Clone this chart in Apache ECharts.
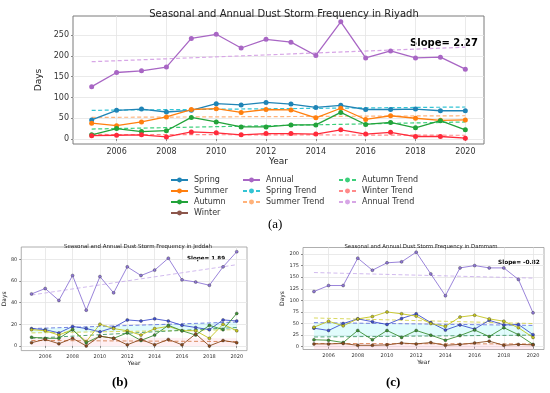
<!DOCTYPE html>
<html><head><meta charset="utf-8">
<script src="https://cdn.jsdelivr.net/npm/echarts@6/dist/echarts.min.js"></script>
<style>html,body{margin:0;padding:0;background:#fff}#c{width:550px;height:393px}</style>
</head><body><div id="c"></div>
<script>
const years = [2005,2006,2007,2008,2009,2010,2011,2012,2013,2014,2015,2016,2017,2018,2019,2020];
const trendYears = [2005, 2020];

// Riyadh
const riySpring = [46,69,72,65,69,85,82,88,84,76,81,71,71,72,68,68];
const riySummer = [38,32,41,53,71,73,64,71,70,51,74,47,56,50,45,46];
const riyAutumn = [10,25,18,20,52,41,29,29,34,34,64,35,40,27,44,22];
const riyWinter = [8,9,10,5,17,15,10,13,13,12,22,12,16,6,6,2];
const riyAnnual = [126,160,164,173,242,252,219,240,233,201,282,195,212,195,197,168];
const riyTrendSpring = [69,77];
const riyTrendSummer = [52,56];
const riyTrendAutumn = [24,41];
const riyTrendWinter = [11,9];
const riyTrendAnnual = [186,221];

// Jeddah
const jedSpring = [16,15,12,18,16,13,17,24,23,25,23,19,17,15,24,23];
const jedSummer = [15,14,10,15,4,20,16,14,10,16,18,14,14,7,20,14];
const jedAutumn = [8,7,7,15,3,9,7,12,5,10,19,14,10,19,15,30];
const jedWinter = [3,6,2,7,0,9,7,1,6,1,6,1,11,0,5,3];
const jedAnnual = [48,53,42,65,33,64,49,73,65,70,81,61,59,56,73,87];
const jedTrendSpring = [16,22];
const jedTrendSummer = [12,15];
const jedTrendAutumn = [7,17];
const jedTrendWinter = [5,4];
const jedTrendAnnual = [47,75];

// Dammam
const damSpring = [40,35,50,60,54,48,61,71,52,36,47,38,57,47,48,26];
const damSummer = [42,55,45,60,65,75,71,66,50,44,64,68,60,55,41,20];
const damAutumn = [15,14,9,35,15,35,20,35,25,14,24,36,22,41,26,5];
const damWinter = [6,6,7,3,3,4,8,6,9,3,5,8,12,3,5,4];
const damAnnual = [119,132,132,191,165,181,183,204,157,110,170,175,170,170,145,73];
const damTrendSpring = [52,46];
const damTrendSummer = [62,50];
const damTrendAutumn = [21,25];
const damTrendWinter = [7,6];
const damTrendAnnual = [160,148];

const xTicks = [2006,2008,2010,2012,2014,2016,2018,2020];
const riyTicks = [0,50,100,150,200,250];
const jedTicks = [0,20,40,60,80];
const damTicks = [0,25,50,75,100,125,150,175,200];

const FONT = 'DejaVu Sans';
const pts = (arr) => years.map((y,i)=>[y, arr[i]]);
const tpts = (arr) => trendYears.map((y,i)=>[y, arr[i]]);

function lineS(name, data, color, g, size, width) {
  return {type:'line', name, data:pts(data), xAxisIndex:g, yAxisIndex:g,
    symbol:'circle', symbolSize:size, showSymbol:true,
    itemStyle:{color, borderColor: g===0 ? color : 'rgba(40,40,40,0.7)', borderWidth: g===0?0:0.5},
    lineStyle:{color, width}, animation:false, z:3};
}
function trendS(name, data, color, g, width) {
  return {type:'line', name, data:tpts(data), xAxisIndex:g, yAxisIndex:g,
    symbol:'none', lineStyle:{color, width, type:[4,2.5]}, itemStyle:{color}, animation:false, z:2};
}
function bandS(lo, hi, color, g) {
  return {type:'custom', xAxisIndex:g, yAxisIndex:g, silent:true, animation:false, z:1,
    data:[[trendYears[0], lo[0], hi[0], trendYears[1], lo[1], hi[1]]],
    renderItem:(params, api)=>{
      const a = api.coord([api.value(0), api.value(1)]);
      const b = api.coord([api.value(3), api.value(4)]);
      const c = api.coord([api.value(3), api.value(5)]);
      const d = api.coord([api.value(0), api.value(2)]);
      return {type:'polygon', shape:{points:[a,b,c,d]}, style:{fill:color}};
    }};
}

function xAx(g, min, max, fs, gap, nameFs) {
  return {type:'value', gridIndex:g, min, max, interval:2,
    name:'Year', nameLocation:'middle', nameGap:gap,
    nameTextStyle:{fontFamily:FONT, fontSize:nameFs, color:'#222'},
    axisLine:{show:false}, axisTick:{show:true, length:2, lineStyle:{color:'#888'}, customValues: xTicks},
    axisLabel:{fontFamily:FONT, fontSize:fs, color:'#333', margin:4, customValues: xTicks,
      formatter:(v)=> String(v)},
    splitLine:{show:true, lineStyle:{color:'#e4e4e4', width:0.8}}};
}
function yAx(g, min, max, interval, ticks, fs, gap, nameFs) {
  return {type:'value', gridIndex:g, min, max, interval,
    name:'Days', nameLocation:'middle', nameGap:gap,
    nameTextStyle:{fontFamily:FONT, fontSize:nameFs, color:'#222'},
    axisLine:{show:false}, axisTick:{show:true, length:2, lineStyle:{color:'#888'}, customValues: ticks},
    axisLabel:{fontFamily:FONT, fontSize:fs, color:'#333', margin:4, customValues: ticks,
      formatter:(v)=> String(v)},
    splitLine:{show:true, lineStyle:{color:'#e4e4e4', width:0.8}}};
}

// colours
const cR = {spring:'#1f84b6', summer:'#ff7f0e', autumn:'#22a33a', winter:'#ff2a3a', annual:'#a866c4',
  tSpring:'#33c4d4', tSummer:'#ffb27a', tAutumn:'#3ccf7a', tWinter:'#ff8a8a', tAnnual:'#d7a6e6'};
const cS = {spring:'#3e4fcf', summer:'#c4c41e', autumn:'#3c8f33', winter:'#8b4a1c', annual:'#8e76d6',
  tSpring:'#5566dd', tSummer:'#cfcf3a', tAutumn:'#2e8b57', tWinter:'#d0703a', tAnnual:'#c5a8ea'};

const series = [
  lineS('Spring', riySpring, cR.spring, 0, 5, 1.3),
  lineS('Summer', riySummer, cR.summer, 0, 5, 1.3),
  lineS('Autumn', riyAutumn, cR.autumn, 0, 5, 1.3),
  lineS('Winter', riyWinter, cR.winter, 0, 5, 1.3),
  lineS('Annual', riyAnnual, cR.annual, 0, 5, 1.3),
  trendS('Spring Trend', riyTrendSpring, cR.tSpring, 0, 1.2),
  trendS('Summer Trend', riyTrendSummer, cR.tSummer, 0, 1.2),
  trendS('Autumn Trend', riyTrendAutumn, cR.tAutumn, 0, 1.2),
  trendS('Winter Trend', riyTrendWinter, cR.tWinter, 0, 1.2),
  trendS('Annual Trend', riyTrendAnnual, cR.tAnnual, 0, 1.2),

  bandS(jedTrendSummer, jedTrendSpring, 'rgba(120,240,240,0.22)', 1),
  bandS([0,0], jedTrendWinter.map(v=>v+3), 'rgba(255,170,190,0.18)', 1),
  lineS('J Spring', jedSpring, cS.spring, 1, 3, 0.9),
  lineS('J Summer', jedSummer, cS.summer, 1, 3, 0.9),
  lineS('J Autumn', jedAutumn, cS.autumn, 1, 3, 0.9),
  lineS('J Winter', jedWinter, cS.winter, 1, 3, 0.9),
  lineS('J Annual', jedAnnual, cS.annual, 1, 3, 0.9),
  trendS('J Spring Trend', jedTrendSpring, cS.tSpring, 1, 0.8),
  trendS('J Summer Trend', jedTrendSummer, cS.tSummer, 1, 0.8),
  trendS('J Autumn Trend', jedTrendAutumn, cS.tAutumn, 1, 0.8),
  trendS('J Winter Trend', jedTrendWinter, cS.tWinter, 1, 0.8),
  trendS('J Annual Trend', jedTrendAnnual, cS.tAnnual, 1, 0.8),

  bandS(damTrendAutumn, damTrendSpring, 'rgba(120,240,240,0.22)', 2),
  bandS([-6,-6], damTrendWinter, 'rgba(255,170,190,0.22)', 2),
  lineS('D Spring', damSpring, cS.spring, 2, 3, 0.9),
  lineS('D Summer', damSummer, cS.summer, 2, 3, 0.9),
  lineS('D Autumn', damAutumn, cS.autumn, 2, 3, 0.9),
  lineS('D Winter', damWinter, cS.winter, 2, 3, 0.9),
  lineS('D Annual', damAnnual, cS.annual, 2, 3, 0.9),
  trendS('D Spring Trend', damTrendSpring, cS.tSpring, 2, 0.8),
  trendS('D Summer Trend', damTrendSummer, cS.tSummer, 2, 0.8),
  trendS('D Autumn Trend', damTrendAutumn, cS.tAutumn, 2, 0.8),
  trendS('D Winter Trend', damTrendWinter, cS.tWinter, 2, 0.8),
  trendS('D Annual Trend', damTrendAnnual, cS.tAnnual, 2, 0.8)
];

const legBase = {orient:'vertical', itemWidth:17, itemHeight:6, itemGap:3, padding:0,
  textStyle:{fontFamily:FONT, fontSize:8, color:'#333', padding:[0,0,0,1]}, selectedMode:false, top:176};

const option = {
  backgroundColor:'#fff',
  animation:false,
  title:[
    {text:'Seasonal and Annual Dust Storm Frequency in Riyadh', left:279, top:4, textAlign:'center',
      textStyle:{fontFamily:FONT, fontSize:10, fontWeight:'normal', color:'#222'}},
    {text:'Seasonal and Annual Dust Storm Frequency in Jeddah', left:133, top:239, textAlign:'center',
      textStyle:{fontFamily:FONT, fontSize:5.5, fontWeight:'normal', color:'#222'}},
    {text:'Seasonal and Annual Dust Storm Frequency in Dammam', left:416, top:239, textAlign:'center',
      textStyle:{fontFamily:FONT, fontSize:5.4, fontWeight:'normal', color:'#222'}}
  ],
  grid:[
    {left:73, top:16, width:411, height:128, show:true, borderColor:'#7a7a7a', borderWidth:1, backgroundColor:'transparent'},
    {left:18, top:247, width:229, height:103.6, show:true, borderColor:'#9a9a9a', borderWidth:0.8, backgroundColor:'transparent'},
    {left:303, top:247.5, width:241, height:102, show:true, borderColor:'#9a9a9a', borderWidth:0.8, backgroundColor:'transparent'}
  ],
  xAxis:[
    xAx(0, 2004.25, 2020.75, 8, 10, 9),
    xAx(1, 2004.25, 2020.75, 5, 6, 6),
    xAx(2, 2004.25, 2020.75, 5, 6, 6)
  ],
  yAxis:[
    yAx(0, -12, 296, 50, riyTicks, 8, 20, 9),
    yAx(1, -4.35, 91.35, 20, jedTicks, 5, 7, 6),
    yAx(2, -6, 214, 25, damTicks, 5, 10, 6)
  ],
  legend:[
    Object.assign({}, legBase, {left:170, data:['Spring','Summer','Autumn',
      {name:'Winter', itemStyle:{color:'#8c564b'}, lineStyle:{color:'#8c564b'}}]}),
    Object.assign({}, legBase, {left:242, data:['Annual','Spring Trend','Summer Trend']}),
    Object.assign({}, legBase, {left:338, data:['Autumn Trend','Winter Trend','Annual Trend']})
  ],
  graphic:[
    {type:'text', left:410, top:38, style:{text:'Slope= 2.27', font:'bold 10px "DejaVu Sans"', fill:'#000'}},
    {type:'text', left:187, top:256, style:{text:'Slope= 1.89', font:'bold 5.6px "DejaVu Sans"', fill:'#000'}},
    {type:'text', left:498, top:259, style:{text:'Slope= -0.82', font:'bold 5.8px "DejaVu Sans"', fill:'#000'}},
    {type:'text', left:268, top:218, style:{text:'(a)', font:'13px "Liberation Serif"', fill:'#000'}},
    {type:'text', left:112, top:376, style:{text:'(b)', font:'bold 13px "Liberation Serif"', fill:'#000'}},
    {type:'text', left:386, top:376, style:{text:'(c)', font:'bold 13px "Liberation Serif"', fill:'#000'}}
  ],
  series
};
const chart = echarts.init(document.getElementById('c'), null, {renderer:'canvas'});
chart.setOption(option);
</script></body></html>
